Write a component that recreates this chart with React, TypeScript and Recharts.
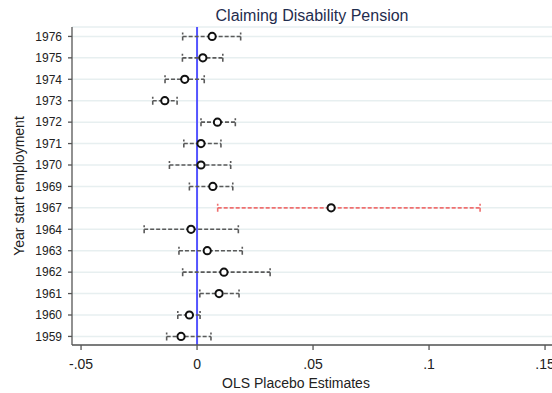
import React from 'react';
import { ComposedChart, Scatter, XAxis, YAxis, CartesianGrid, ReferenceLine, ErrorBar } from 'recharts';

// bottom to top
const years = ['1959', '1960', '1961', '1962', '1963', '1964', '1967', '1969', '1970', '1971', '1972', '1973', '1974', '1975', '1976'];
const estimates = [-0.0069, -0.0033, 0.0095, 0.0116, 0.0044, -0.0026, 0.0578, 0.0068, 0.0017, 0.0017, 0.0088, -0.0139, -0.0053, 0.0025, 0.0065];
const lowerCI = [-0.0131, -0.0083, 0.0012, -0.0062, -0.0078, -0.0228, 0.0089, -0.0033, -0.0119, -0.0057, 0.0017, -0.0191, -0.0138, -0.0063, -0.0062];
const upperCI = [0.0060, 0.0013, 0.0181, 0.0315, 0.0195, 0.0178, 0.1220, 0.0154, 0.0145, 0.0103, 0.0165, -0.0086, 0.0031, 0.0111, 0.0188];
const highlightYear = '1967';
const xTicks = [-0.05, 0, 0.05, 0.1, 0.15];

const rows = years.map((yr, i) => ({
  year: yr,
  y: i,
  x: estimates[i],
  err: [estimates[i] - lowerCI[i], upperCI[i] - estimates[i]],
}));
const normalRows = rows.filter((r) => r.year !== highlightYear);
const highlightRows = rows.filter((r) => r.year === highlightYear);

const FONT = '"Liberation Sans", Arial, sans-serif';

const fmtX = (v: number) => {
  if (v === 0) return '0';
  const s = String(Math.abs(v)).replace(/^0/, '');
  return (v < 0 ? '-' : '') + s;
};

const Dot = (p: any) => (
  <circle cx={p.cx} cy={p.cy} r={3.6} fill="#fff" stroke="#111" strokeWidth={2} />
);

const XLabel = (props: any) => {
  const vb = props.viewBox;
  return (
    <text x={vb.x + vb.width / 2 - 16} y={388} textAnchor="middle" fontSize={14} fontFamily={FONT} fill="#222">
      OLS Placebo Estimates
    </text>
  );
};

const YLabel = (props: any) => {
  const vb = props.viewBox;
  const cx = 19;
  const cy = vb.y + vb.height / 2;
  return (
    <text x={cx} y={cy} dy="0.35em" transform={`rotate(-90, ${cx}, ${cy})`} textAnchor="middle" fontSize={14} fontFamily={FONT} fill="#222">
      Year start employment
    </text>
  );
};

export default function App() {
  return (
    <div style={{ position: 'absolute', left: 0, top: 0, width: 552, height: 393, background: '#fff' }}>
      <div
        style={{
          position: 'absolute',
          left: 72,
          width: 480,
          top: 8,
          textAlign: 'center',
          fontFamily: FONT,
          fontSize: 16,
          lineHeight: '16px',
          color: '#1f2d4e',
        }}
      >
        Claiming Disability Pension
      </div>
      <ComposedChart width={552} height={393} margin={{ top: 27, right: 0, bottom: 0, left: 0 }}>
        <CartesianGrid horizontal vertical={false} stroke="#e7eff0" strokeWidth={1.5} />
        <XAxis
          type="number"
          dataKey="x"
          domain={[-0.0539, 0.153]}
          allowDataOverflow
          ticks={xTicks}
          interval={0}
          tickFormatter={fmtX}
          height={48}
          tickSize={5}
          tickMargin={9}
          stroke="#555"
          strokeWidth={1.3}
          tick={{ fontSize: 14, fontFamily: FONT, fill: '#222' }}
          label={<XLabel />}
        />
        <YAxis
          type="number"
          dataKey="y"
          domain={[-0.4, 14.44]}
          allowDataOverflow
          ticks={years.map((_, i) => i)}
          interval={0}
          tickFormatter={(i: number) => years[i]}
          width={72}
          tickSize={4}
          tickMargin={6}
          stroke="#555"
          strokeWidth={1.3}
          tick={{ fontSize: 12, fontFamily: FONT, fill: '#222' }}
          label={<YLabel />}
        />
        <ReferenceLine x={0} stroke="#5555ff" strokeWidth={2} ifOverflow="hidden" />
        <Scatter data={normalRows} isAnimationActive={false} shape={<Dot />}>
          <ErrorBar
            dataKey="err"
            direction="x"
            width={4}
            stroke="#5a5a5a"
            strokeWidth={1.6}
            strokeDasharray="4 2"
            isAnimationActive={false}
          />
        </Scatter>
        <Scatter data={highlightRows} isAnimationActive={false} shape={<Dot />}>
          <ErrorBar
            dataKey="err"
            direction="x"
            width={4}
            stroke="#ef7070"
            strokeWidth={1.6}
            strokeDasharray="4 2"
            isAnimationActive={false}
          />
        </Scatter>
      </ComposedChart>
    </div>
  );
}
